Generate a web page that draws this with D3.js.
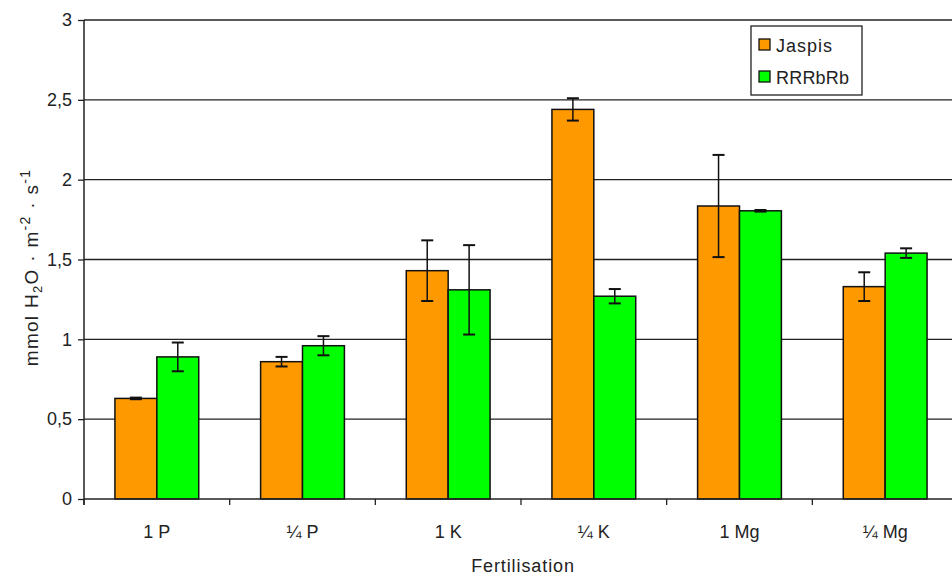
<!DOCTYPE html>
<html>
<head>
<meta charset="utf-8">
<script src="https://cdn.jsdelivr.net/npm/d3@7"></script>
<style>
  html, body { margin: 0; padding: 0; background: #fff; }
  svg { display: block; font-family: "Liberation Sans", Arial, sans-serif; }
</style>
</head>
<body>
<svg id="chart" width="952" height="578"></svg>
<script>
// Stomatal conductance by fertilisation treatment, two cultivars
const categories = ["1 P", "\u00BC P", "1 K", "\u00BC K", "1 Mg", "\u00BC Mg"];
const seriesNames = ["Jaspis", "RRRbRb"];
const jaspisValues = [0.63, 0.86, 1.43, 2.44, 1.835, 1.33];
const jaspisErrors = [0.005, 0.03, 0.19, 0.07, 0.32, 0.09];
const rrrbrbValues = [0.89, 0.96, 1.31, 1.27, 1.805, 1.54];
const rrrbrbErrors = [0.09, 0.06, 0.28, 0.045, 0.005, 0.03];
const yTicks = [0, 0.5, 1, 1.5, 2, 2.5, 3];
const yTickLabels = ["0", "0,5", "1", "1,5", "2", "2,5", "3"];
const colors = ["#FF9900", "#00FF00"];

const svg = d3.select("#chart");
const margin = { left: 84, top: 20, right: -6, bottom: 79 };
const W = 952, H = 578;
const plotW = W - margin.left - margin.right;
const plotH = H - margin.top - margin.bottom;

const g = svg.append("g").attr("transform", `translate(${margin.left},${margin.top})`);

const x0 = d3.scaleBand().domain(categories).range([0, plotW])
  .paddingInner(0.4247).paddingOuter(0.21235);
const x1 = d3.scaleBand().domain(seriesNames).range([0, x0.bandwidth()]);
const y = d3.scaleLinear().domain([0, 3]).range([plotH, 0]);

// horizontal gridlines
g.append("g").selectAll("line").data(yTicks.filter(d => d > 0)).join("line")
  .attr("x1", 0).attr("x2", plotW)
  .attr("y1", d => y(d)).attr("y2", d => y(d))
  .attr("stroke", "#222").attr("stroke-width", 1.3);

// bars
const data = categories.map((c, i) => ({
  cat: c,
  values: [
    { name: seriesNames[0], v: jaspisValues[i], e: jaspisErrors[i], color: colors[0] },
    { name: seriesNames[1], v: rrrbrbValues[i], e: rrrbrbErrors[i], color: colors[1] }
  ]
}));

const groups = g.append("g").selectAll("g").data(data).join("g")
  .attr("transform", d => `translate(${x0(d.cat)},0)`);

groups.selectAll("rect").data(d => d.values).join("rect")
  .attr("x", d => x1(d.name))
  .attr("y", d => y(d.v))
  .attr("width", x1.bandwidth())
  .attr("height", d => y(0) - y(d.v))
  .attr("fill", d => d.color)
  .attr("stroke", "#111").attr("stroke-width", 1.5);

// error bars
const cap = 6;
const eb = groups.selectAll("g.err").data(d => d.values).join("g").attr("class", "err");
eb.append("line")
  .attr("x1", d => x1(d.name) + x1.bandwidth() / 2)
  .attr("x2", d => x1(d.name) + x1.bandwidth() / 2)
  .attr("y1", d => y(d.v + d.e)).attr("y2", d => y(d.v - d.e))
  .attr("stroke", "#111").attr("stroke-width", 1.5);
eb.selectAll("line.cap").data(d => [
    { cx: x1(d.name) + x1.bandwidth() / 2, yv: d.v + d.e },
    { cx: x1(d.name) + x1.bandwidth() / 2, yv: d.v - d.e }
  ]).join("line").attr("class", "cap")
  .attr("x1", d => d.cx - cap).attr("x2", d => d.cx + cap)
  .attr("y1", d => y(d.yv)).attr("y2", d => y(d.yv))
  .attr("stroke", "#111").attr("stroke-width", 2);

// y axis
const yAxis = d3.axisLeft(y).tickValues(yTicks)
  .tickFormat((d, i) => yTickLabels[i]).tickSize(6).tickPadding(6);
const ya = g.append("g").call(yAxis);
ya.select(".domain").attr("stroke", "#222").attr("stroke-width", 1.5).attr("d", `M0,${plotH + 6}V0`);
ya.selectAll(".tick line").attr("stroke", "#222").attr("stroke-width", 1.3);
ya.selectAll(".tick text").attr("font-size", 18).attr("fill", "#222")
  .attr("font-family", "\"Liberation Sans\", Arial, sans-serif");

// x axis with ticks at category boundaries
const xa = g.append("g").attr("transform", `translate(0,${plotH})`);
xa.append("line").attr("x1", 0).attr("x2", plotW).attr("y1", 0).attr("y2", 0)
  .attr("stroke", "#222").attr("stroke-width", 1.5);
const boundaries = categories.map(c => x0(c) - x0.step() * x0.paddingInner() / 2);
xa.selectAll("line.tk").data(boundaries).join("line").attr("class", "tk")
  .attr("x1", d => d).attr("x2", d => d).attr("y1", 0).attr("y2", 6)
  .attr("stroke", "#222").attr("stroke-width", 1.3);
xa.selectAll("text").data(categories).join("text")
  .attr("x", d => x0(d) + x0.bandwidth() / 2)
  .attr("y", 39)
  .attr("text-anchor", "middle")
  .attr("font-size", 18).attr("fill", "#222")
  .text(d => d);

// axis titles
svg.append("text")
  .attr("x", margin.left + x0.step() * 3 + 2).attr("y", 572)
  .attr("text-anchor", "middle").attr("font-size", 18).attr("letter-spacing", 0.9)
  .attr("fill", "#222")
  .text("Fertilisation");

const yt = svg.append("text")
  .attr("transform", `translate(38,${margin.top + plotH / 2 + 8}) rotate(-90)`)
  .attr("text-anchor", "middle").attr("font-size", 19).attr("letter-spacing", 1.3)
  .attr("fill", "#222").attr("xml:space", "preserve");
yt.append("tspan").text("mmol H");
yt.append("tspan").attr("font-size", 13).attr("dy", 4).text("2");
yt.append("tspan").attr("dy", -4).text("O \u00B7 m");
yt.append("tspan").attr("font-size", 14).attr("dy", -8).text("-2");
yt.append("tspan").attr("dy", 8).text(" \u00B7 s");
yt.append("tspan").attr("font-size", 14).attr("dy", -8).text("-1");

// legend
const lg = svg.append("g").attr("transform", "translate(751,26)");
lg.append("rect").attr("width", 111).attr("height", 69)
  .attr("fill", "#fff").attr("stroke", "#222").attr("stroke-width", 1.3);
seriesNames.forEach((name, i) => {
  const row = lg.append("g").attr("transform", `translate(8,${19 + i * 32})`);
  row.append("rect").attr("x", 0).attr("y", -6).attr("width", 11).attr("height", 11)
    .attr("fill", colors[i]).attr("stroke", "#111").attr("stroke-width", 1.3);
  row.append("text").attr("x", 17).attr("y", 7).attr("font-size", 18)
    .attr("letter-spacing", i === 0 ? 1 : 0.2).attr("fill", "#222").text(name);
});
</script>
</body>
</html>
